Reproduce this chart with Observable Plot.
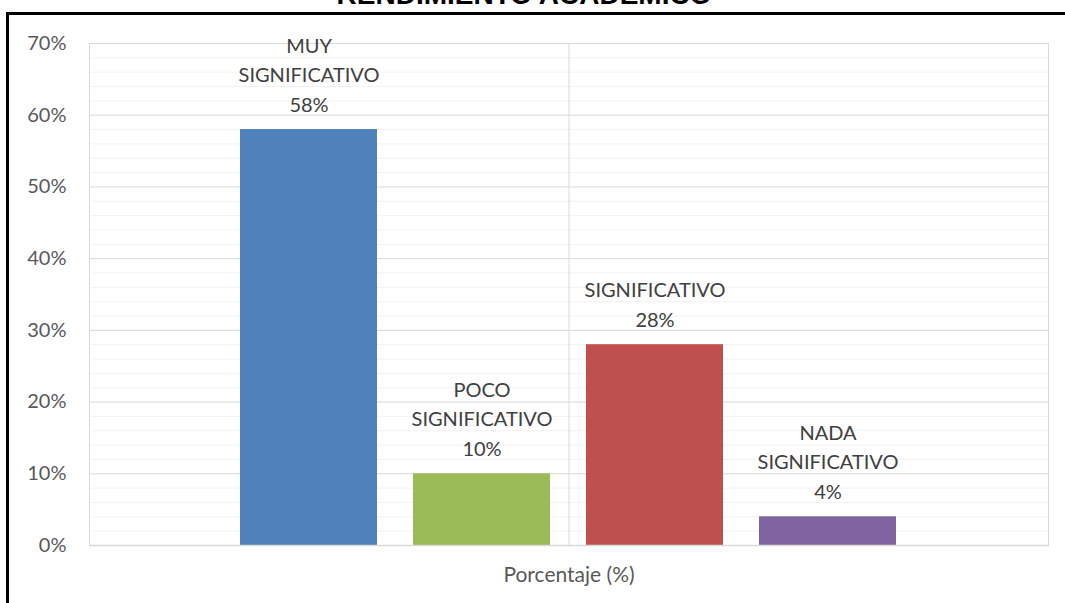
<!DOCTYPE html>
<html>
<head>
<meta charset="utf-8">
<script src="https://cdn.jsdelivr.net/npm/d3@7"></script>
<script src="https://cdn.jsdelivr.net/npm/@observablehq/plot@0.6"></script>
<style>
  html, body { margin: 0; padding: 0; background: #fff; overflow: hidden; }
  #wrap { position: relative; width: 1065px; height: 603px; overflow: hidden; }
  #frame { position: absolute; left: 6px; top: 12px; width: 1100px; height: 700px; border: 3px solid #000; box-sizing: border-box; }
  #title { position: absolute; left: 0; width: 1048px; text-align: center; top: -19px; font: bold 28px "Liberation Sans", Arial, sans-serif; line-height: 28px; color: #000; white-space: nowrap; }
  #chart { position: absolute; left: 0; top: 0; }
</style>
</head>
<body>
<div id="wrap">
  <div id="frame"></div>
  <div id="title">RENDIMIENTO ACADEMICO</div>
  <div id="chart"></div>
</div>
<script>
const category = "Porcentaje (%)";
const series = ["MUY SIGNIFICATIVO", "POCO SIGNIFICATIVO", "SIGNIFICATIVO", "NADA SIGNIFICATIVO"];
const labels = ["MUY\nSIGNIFICATIVO", "POCO\nSIGNIFICATIVO", "SIGNIFICATIVO", "NADA\nSIGNIFICATIVO"];
const values = [58, 10, 28, 4];
const colors = ["#4F81BD", "#9BBB59", "#C0504D", "#8064A2"];
const majorTicks = [0, 10, 20, 30, 40, 50, 60, 70];
const minorTicks = [2, 4, 6, 8, 12, 14, 16, 18, 22, 24, 26, 28, 32, 34, 36, 38, 42, 44, 46, 48, 52, 54, 56, 58, 62, 64, 66, 68];

const data = series.map((s, i) => ({
  category, series: s, value: values[i], label: labels[i] + "\n" + values[i] + "%"
}));

const plot = Plot.plot({
  width: 1065,
  height: 603,
  marginLeft: 89,
  marginRight: 17,
  marginTop: 43,
  marginBottom: 58,
  style: { fontFamily: "Lato, 'Open Sans', sans-serif", fontSize: "20px", background: "transparent" },
  fx: { domain: [category], padding: 0, label: null },
  x: { domain: series, paddingInner: 0.2054, paddingOuter: 0.864, axis: null },
  y: { domain: [0, 70], label: null },
  color: { domain: series, range: colors },
  marks: [
    Plot.ruleY(minorTicks, { stroke: "#f2f2f2", strokeWidth: 1 }),
    Plot.ruleY(majorTicks, { stroke: "#d9d9d9", strokeWidth: 1 }),
    Plot.gridFx({ stroke: "#d9d9d9", strokeOpacity: 1, strokeWidth: 1 }),
    Plot.frame({ anchor: "left", stroke: "#d9d9d9", strokeOpacity: 1 }),
    Plot.frame({ anchor: "right", stroke: "#d9d9d9", strokeOpacity: 1 }),
    Plot.barY(data, { fx: "category", x: "series", y: "value", fill: "series" }),
    Plot.text(data, {
      fx: "category", x: "series", y: "value", text: "label",
      lineAnchor: "bottom", lineHeight: 1.475, dy: -18, fill: "#404040", fontSize: 20
    }),
    Plot.axisY({
      ticks: majorTicks, tickFormat: d => d + "%", tickSize: 0, tickPadding: 23,
      fill: "#595959", fontSize: 20, label: null
    }),
    Plot.axisFx({
      anchor: "bottom", tickSize: 0, tickPadding: 22, fill: "#595959", fontSize: 21, label: null
    }),
    Plot.ruleY([0], { stroke: "#d9d9d9", strokeWidth: 1.5 })
  ]
});
document.getElementById("chart").appendChild(plot);
</script>
</body>
</html>
